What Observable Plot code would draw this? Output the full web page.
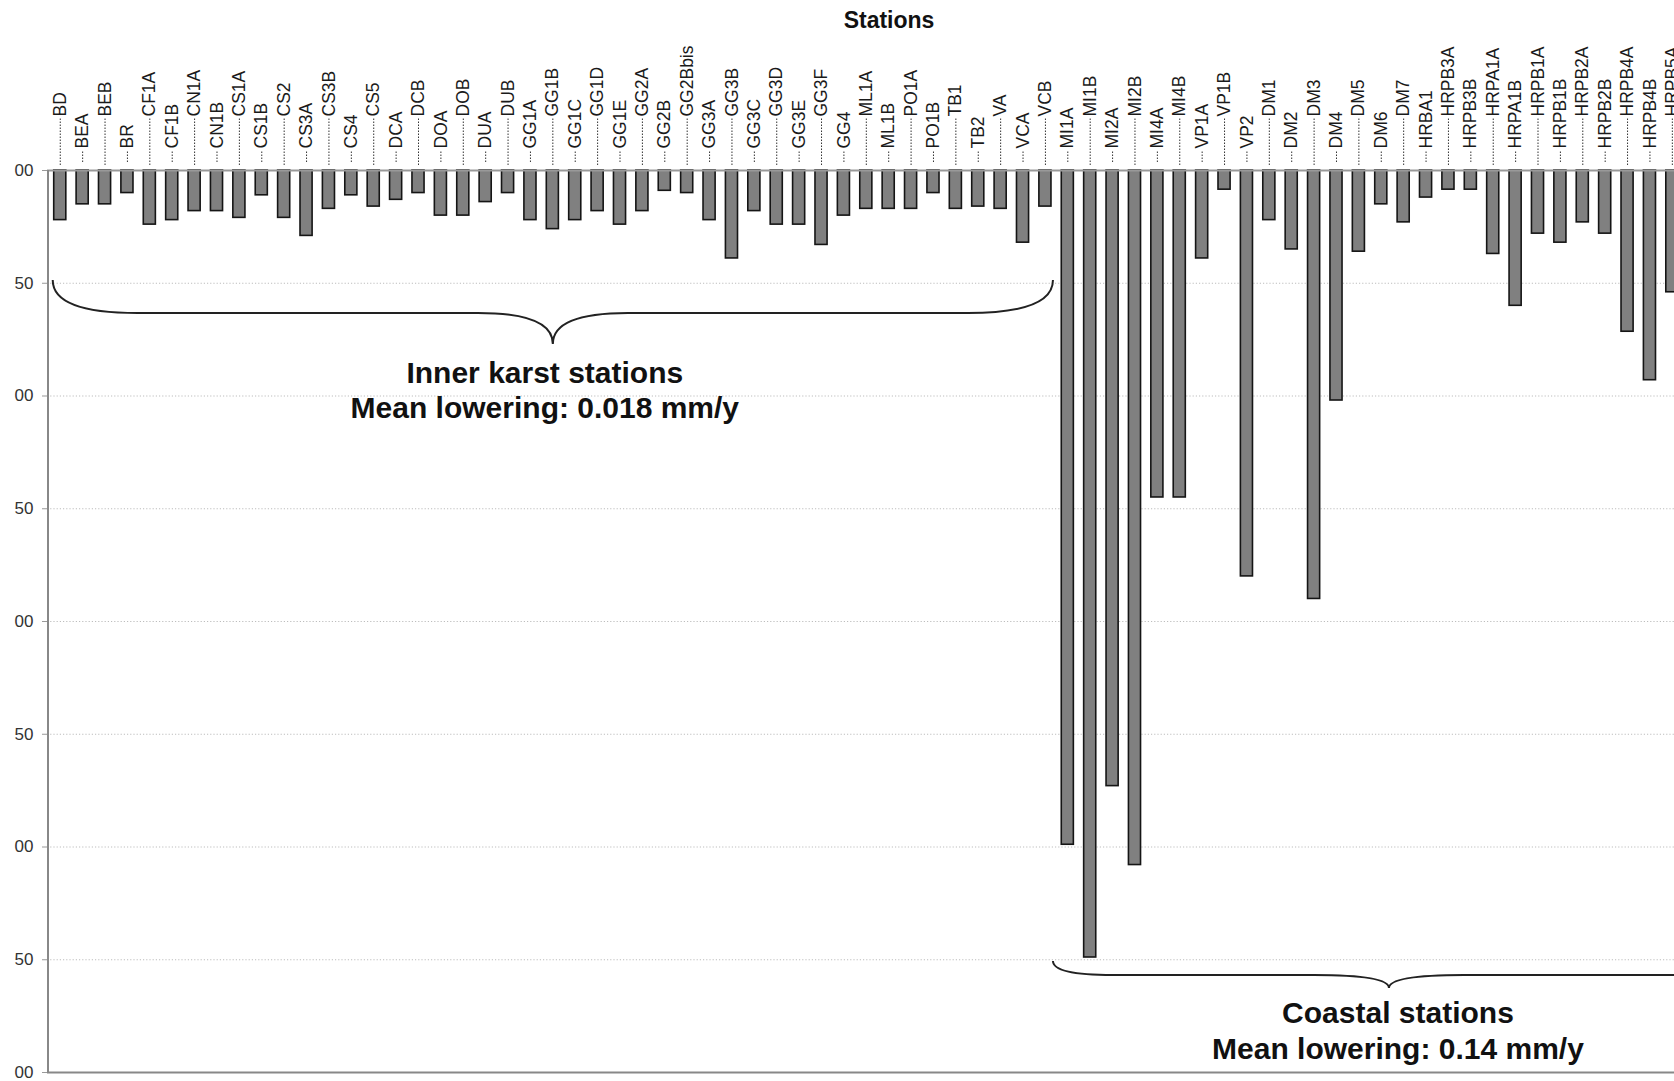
<!DOCTYPE html>
<html><head><meta charset="utf-8">
<script src="https://cdn.jsdelivr.net/npm/d3@7"></script>
<script src="https://cdn.jsdelivr.net/npm/@observablehq/plot@0.6"></script>
<style>
html,body{margin:0;padding:0;background:#fff;overflow:hidden;}
#chart{width:1674px;height:1081px;overflow:hidden;}
</style>
</head><body><div id="chart"></div>
<script>
// ---- data ----
const innerStations = ["BD","BEA","BEB","BR","CF1A","CF1B","CN1A","CN1B","CS1A","CS1B","CS2","CS3A","CS3B","CS4","CS5","DCA","DCB","DOA","DOB","DUA","DUB","GG1A","GG1B","GG1C","GG1D","GG1E","GG2A","GG2B","GG2Bbis","GG3A","GG3B","GG3C","GG3D","GG3E","GG3F","GG4","ML1A","ML1B","PO1A","PO1B","TB1","TB2","VA","VCA","VCB"];
const innerValues = [0.022,0.015,0.015,0.010,0.024,0.022,0.018,0.018,0.021,0.011,0.021,0.029,0.017,0.011,0.016,0.013,0.010,0.020,0.020,0.014,0.010,0.022,0.026,0.022,0.018,0.024,0.018,0.009,0.010,0.022,0.039,0.018,0.024,0.024,0.033,0.020,0.017,0.017,0.017,0.010,0.017,0.016,0.017,0.032,0.016];
const coastalStations = ["MI1A","MI1B","MI2A","MI2B","MI4A","MI4B","VP1A","VP1B","VP2","DM1","DM2","DM3","DM4","DM5","DM6","DM7","HRBA1","HRPB3A","HRPB3B","HRPA1A","HRPA1B","HRPB1A","HRPB1B","HRPB2A","HRPB2B","HRPB4A","HRPB4B","HRPB5A"];
const coastalValues = [0.299,0.349,0.273,0.308,0.145,0.145,0.039,0.0085,0.180,0.022,0.035,0.190,0.102,0.036,0.015,0.023,0.012,0.0085,0.0085,0.037,0.060,0.028,0.032,0.023,0.028,0.0715,0.093,0.054];
const yTicks = [0,0.05,0.1,0.15,0.2,0.25,0.3,0.35,0.4];
const yTickLabels = ["00","50","00","50","00","50","00","50","00"];
const titleText = "Stations";
const innerNote = ["Inner karst stations","Mean lowering: 0.018 mm/y"];
const coastalNote = ["Coastal stations","Mean lowering: 0.14 mm/y"];

const stations = innerStations.concat(coastalStations);
const values = innerValues.concat(coastalValues);
const data = stations.map((s,i)=>({station:s, value:values[i], i, group: i < innerStations.length ? "inner" : "coastal"}));

// ---- layout ----
const W = 1674, H = 1081;
const y0px = 170, y1px = 1072;
const ppu = (y1px - y0px) / 0.4; // pixels per unit
const px = p => -p / ppu;          // pixel offset above zero -> data units
const font = "'Liberation Sans', Arial, Helvetica, sans-serif";

const chart = Plot.plot({
  width: W, height: H,
  marginLeft: 47, marginRight: 0, marginTop: y0px, marginBottom: H - y1px,
  style: {fontFamily: font, background: "white", color: "#222"},
  x: {type: "band", domain: stations, range: [47, 47 + 22.39 * (stations.length - 0.46 + 0.6)], paddingInner: 0.46, paddingOuter: 0.3, round: false, axis: null},
  y: {domain: [0, 0.4], range: [y0px, y1px], axis: null},
  marks: [
    Plot.ruleY(yTicks.slice(1, -1), {stroke: "#bdbdbd", strokeWidth: 1, strokeDasharray: "1.2,2"}),
    Plot.axisY({ticks: yTicks, tickFormat: d => yTickLabels[yTicks.indexOf(d)], tickSize: 5, tickPadding: 9, fontSize: 17, stroke: "#999", fill: "#333", label: null}),
    Plot.barY(data, {x: "station", y1: 0, y2: "value", fill: "#808080", stroke: "#151515", strokeWidth: 1.6}),
    Plot.ruleY([0], {stroke: "#999", strokeWidth: 2}),
    Plot.ruleY([0.4], {stroke: "#888", strokeWidth: 2}),
    // leaders
    Plot.ruleX(data, {filter: d => d.i % 2 === 0, x: "station", y1: px(5), y2: px(52), stroke: "#333", strokeWidth: 1, strokeDasharray: "1.5,1.5"}),
    Plot.ruleX(data, {filter: d => d.i % 2 === 1, x: "station", y1: px(8), y2: px(20), stroke: "#333", strokeWidth: 1, strokeDasharray: "1.5,1.5"}),
    // labels
    Plot.text(data, {filter: d => d.i % 2 === 0, x: "station", y: 0, text: "station", rotate: -90, textAnchor: "start", dy: -54, fontSize: 17.5, fill: "#1a1a1a"}),
    Plot.text(data, {filter: d => d.i % 2 === 1, x: "station", y: 0, text: "station", rotate: -90, textAnchor: "start", dy: -22, fontSize: 17.5, fill: "#1a1a1a"})
  ]
});
document.getElementById("chart").appendChild(chart);

// ---- annotations (axis line, braces, notes, title) ----
const svg = d3.select(chart);
const sx = chart.scale("x");
const bw = sx.bandwidth;
const g = svg.append("g");
g.append("line").attr("x1", 48).attr("x2", 48).attr("y1", y0px).attr("y2", y1px + 1)
  .attr("stroke", "#888").attr("stroke-width", 2);

function brace(x1, x2, yEnd, yLine, yTip, r, r2) {
  const xm = (x1 + x2) / 2;
  return `M${x1},${yEnd} Q${x1},${yLine} ${x1 + r},${yLine} L${xm - r2},${yLine} Q${xm},${yLine} ${xm},${yTip} ` +
         `Q${xm},${yLine} ${xm + r2},${yLine} L${x2 - r},${yLine} Q${x2},${yLine} ${x2},${yEnd}`;
}
const innerL = sx.apply(innerStations[0]) - 1;
const innerR = sx.apply(innerStations[innerStations.length - 1]) + bw + 2;
g.append("path").attr("d", brace(innerL, innerR, 280, 313, 344, 85, 75))
  .attr("fill", "none").attr("stroke", "#222").attr("stroke-width", 2);
const coastL = innerR;
const coastTip = coastL + 336;
g.append("path").attr("d", brace(coastL, 2 * coastTip - coastL, 961, 975, 988, 60, 75))
  .attr("fill", "none").attr("stroke", "#222").attr("stroke-width", 2);

const innerMid = (innerL + innerR) / 2;
function note(x, ys, lines) {
  lines.forEach((t, k) => g.append("text").attr("x", x).attr("y", ys[k]).attr("text-anchor", "middle")
    .attr("font-family", font).attr("font-weight", "bold").attr("font-size", 30).attr("fill", "#111").text(t));
}
note(innerMid - 8, [383, 418], innerNote);
note(coastTip + 9, [1023, 1059], coastalNote);

g.append("text").attr("x", 889).attr("y", 28).attr("text-anchor", "middle")
  .attr("font-family", font).attr("font-weight", "bold").attr("font-size", 23).attr("fill", "#111").text(titleText);
</script>
</body></html>
